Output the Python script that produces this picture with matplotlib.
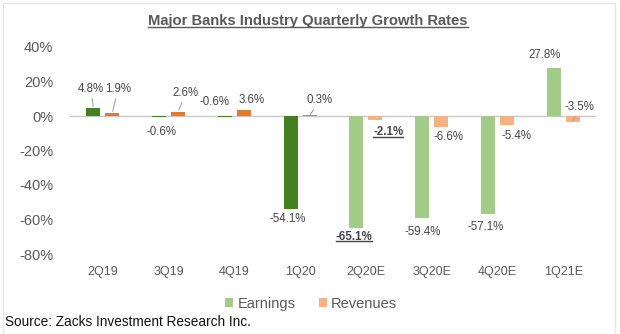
import matplotlib
matplotlib.use("Agg")
import matplotlib.pyplot as plt
from matplotlib.patches import Patch, Rectangle
from matplotlib.lines import Line2D

plt.rcParams['font.family'] = ['Liberation Sans', 'DejaVu Sans']

# ---- data -------------------------------------------------------------
quarters = ['2Q19', '3Q19', '4Q19', '1Q20', '2Q20E', '3Q20E', '4Q20E', '1Q21E']
earnings = [4.8, -0.6, -0.6, -54.1, -65.1, -59.4, -57.1, 27.8]
revenues = [1.9, 2.6, 3.6, 0.3, -2.1, -6.6, -5.4, -3.5]
y_ticks = [40, 20, 0, -20, -40, -60, -80]

# label placement (offset in pixels from bar end) and leader-line flags
earn_offsets = [(-2.5, 18.5), (2, -15), (-10, 15), (-2.6, -9.5),
                (-2.3, -8.7), (1, -13.5), (-2.7, -12.5), (-9.4, 13)]
rev_offsets = [(5.5, 23.5), (7.8, 18.5), (8, 10), (10.4, 15.5),
               (12.7, -12.4), (7, -9.6), (9.3, -10.7), (6.6, 15)]
earn_leader = [True, False, False, False, False, False, False, False]
rev_leader = [True, True, False, True, False, False, False, True]
highlight = '2Q20E'

# ---- styling -----------------------------------------------------------
GREEN_DARK, GREEN_LIGHT = '#43801f', '#a3cb88'
ORANGE_DARK, ORANGE_LIGHT = '#e57a2e', '#f4b183'
TEXT = '#595959'
LABEL = '#454545'

W, H = 620, 334
fig = plt.figure(figsize=(W / 100, H / 100), dpi=100)
fig.patch.set_facecolor('white')
ax = fig.add_axes([70 / W, 1 - 254 / H, (596 - 70) / W, (254 - 47) / H])

x = list(range(len(quarters)))
bw = 0.215
off = 0.145
is_est = [q.endswith('E') for q in quarters]
ecol = [GREEN_LIGHT if e else GREEN_DARK for e in is_est]
rcol = [ORANGE_LIGHT if e else ORANGE_DARK for e in is_est]

ax.bar([i - off for i in x], earnings, width=bw, color=ecol, zorder=2)
ax.bar([i + off for i in x], revenues, width=bw, color=rcol, zorder=2)
ax.axhline(0, color='#c8c8c8', lw=1.0, zorder=1)

ax.set_xlim(-0.5, len(quarters) - 0.5)
ax.set_ylim(-80, 40)
ax.set_yticks(y_ticks)
ax.set_yticklabels([f'{t}%' for t in y_ticks])
ax.set_xticks(x)
ax.set_xticklabels(quarters)
ax.tick_params(axis='y', length=0, pad=12, labelsize=10.5, labelcolor=TEXT)
ax.tick_params(axis='x', length=0, pad=8.5, labelsize=9, labelcolor=TEXT)
for s in ax.spines.values():
    s.set_visible(False)
ax.patch.set_alpha(0)

underlined = []


def add_labels(values, offsets, leaders, shift):
    for i, (v, (dx, dy), lead) in enumerate(zip(values, offsets, leaders)):
        bold = quarters[i] == highlight
        kw = {}
        if lead:
            kw['arrowprops'] = dict(arrowstyle='-', color='#a6a6a6', lw=0.8,
                                    shrinkA=0.5, shrinkB=1)
        t = ax.annotate(f'{v:.1f}%', xy=(i + shift, v), xytext=(dx, dy),
                        textcoords='offset pixels', ha='center', va='center',
                        fontsize=8.3, color=LABEL,
                        fontweight='bold' if bold else 'normal', **kw)
        if bold:
            underlined.append(t)


add_labels(earnings, earn_offsets, earn_leader, -off)
add_labels(revenues, rev_offsets, rev_leader, off)

title = fig.text(308 / W, 1 - 21 / H, 'Major Banks Industry Quarterly Growth Rates',
                 ha='center', va='center', fontsize=10.6, fontweight='bold', color=TEXT)
underlined.append(title)

handles = [Patch(facecolor=GREEN_LIGHT, label='Earnings'),
           Patch(facecolor=ORANGE_LIGHT, label='Revenues')]
fig.legend(handles=handles, loc='center', bbox_to_anchor=(311 / W, 1 - 304 / H),
           ncol=2, frameon=False, fontsize=10.5, handlelength=0.55,
           handleheight=0.55, handletextpad=0.3, columnspacing=1.6,
           labelcolor=TEXT)

fig.text(5 / W, 1 - 322 / H, 'Source: Zacks Investment Research Inc.',
         ha='left', va='center', fontsize=9.8, color='#111111')

# light frame around the chart
fig.add_artist(Rectangle((2.5 / W, 0), (614.5 - 2.5) / W, 1 - 3 / H,
                         transform=fig.transFigure, fill=False,
                         edgecolor='#e6e6e6', lw=1.0))

# underline the highlighted texts
fig.canvas.draw()
r = fig.canvas.get_renderer()
for t in underlined:
    bb = t.get_window_extent(r)
    yl = bb.y0 + 1.5
    fig.add_artist(Line2D([bb.x0 / W, bb.x1 / W], [yl / H, yl / H],
                          transform=fig.transFigure, color=t.get_color(), lw=1.0))

fig.savefig('out.png', dpi=100, facecolor='white')
